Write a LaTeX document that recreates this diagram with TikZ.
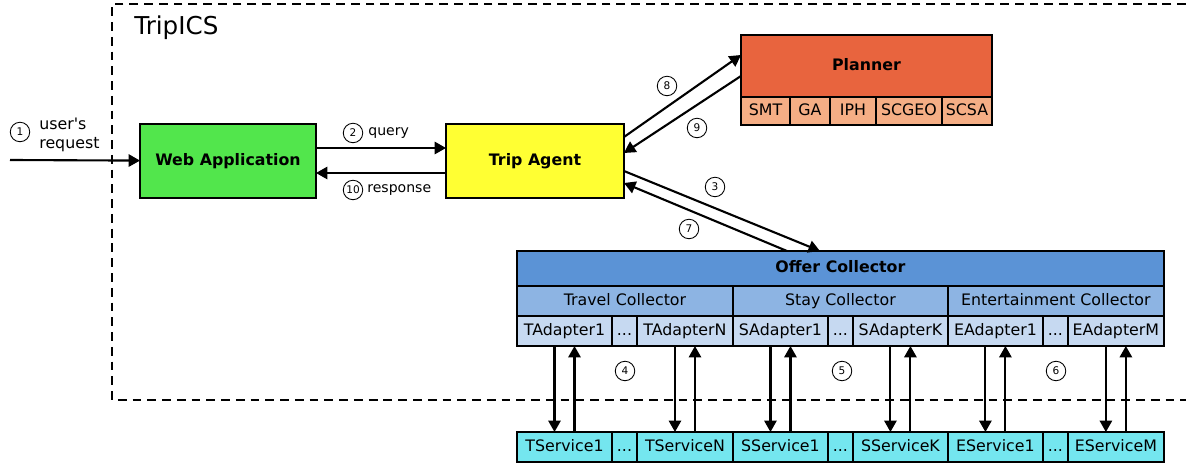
\documentclass[tikz,border=0pt]{standalone}
\usepackage{fontspec}
\setmainfont{DejaVu Sans}
\usetikzlibrary{positioning}
\usetikzlibrary{arrows.meta}
\definecolor{webgreen}{HTML}{52E64C}
\definecolor{agentyellow}{HTML}{FFFF33}
\definecolor{planorange}{HTML}{E8643E}
\definecolor{planlight}{HTML}{F5AE85}
\definecolor{offerblue}{HTML}{5B93D6}
\definecolor{collblue}{HTML}{8DB4E3}
\definecolor{adaptblue}{HTML}{C6D9F1}
\definecolor{servcyan}{HTML}{74E6EF}
\tikzset{box/.style={draw,line width=1.2pt,inner sep=0pt,outer sep=0pt,text height=6.8pt,text depth=1.8pt,font=\fontsize{9}{11}\selectfont}}
\tikzset{title/.style={box,font=\bfseries\fontsize{9}{11}\selectfont}}
\tikzset{cell/.style={box,minimum height=0.6cm}}
\tikzset{num/.style={circle,draw,line width=0.5pt,minimum size=0.39cm,inner sep=0pt,font=\fontsize{6}{7}\selectfont}}
\tikzset{lbl/.style={inner sep=0pt,font=\fontsize{8}{10}\selectfont}}
\tikzset{flow/.style={line width=1.2pt,-{Triangle[length=6.5pt,width=7pt]}}}

\begin{document}
\begin{tikzpicture}[x=0.02cm,y=-0.02cm]
        \useasboundingbox (0,0) rectangle (1186,465);

        % system boundary
        \draw[line width=1.2pt,dash pattern=on 5pt off 3.4pt] (1186,4) -- (112,4) -- (112,400) -- (1186,400);
        \node[anchor=west,inner sep=0pt,font=\fontsize{14}{17}\selectfont] (sys) at (134,28) {TripICS};

        \node[title,fill=webgreen,minimum width=3.52cm,minimum height=1.48cm] (web) at (228,161) {Web Application};
        \node[title,fill=agentyellow,minimum width=3.56cm,minimum height=1.48cm] (agent) at (535,161) {Trip Agent};

        % planner and its solvers
        \node[title,fill=planorange,anchor=north west,minimum width=5.02cm,minimum height=1.24cm] (planner) at (741,35) {Planner};
        \node[box,fill=planlight,anchor=north west,minimum width=0.98cm,minimum height=0.56cm] (smt) at (planner.south west) {SMT};
        \node[box,fill=planlight,right=0pt of smt,minimum width=0.80cm,minimum height=0.56cm] (ga) {GA};
        \node[box,fill=planlight,right=0pt of ga,minimum width=0.92cm,minimum height=0.56cm] (iph) {IPH};
        \node[box,fill=planlight,right=0pt of iph,minimum width=1.32cm,minimum height=0.56cm] (scgeo) {SCGEO};
        \node[box,fill=planlight,right=0pt of scgeo,minimum width=1.00cm,minimum height=0.56cm] (scsa) {SCSA};

        % offer collector
        \node[title,fill=offerblue,anchor=north west,minimum width=12.94cm,minimum height=0.7cm] (offer) at (517,251) {Offer Collector};
        \node[cell,fill=collblue,anchor=north west,minimum width=4.32cm] (travel) at (offer.south west) {Travel Collector};
        \node[cell,fill=collblue,right=0pt of travel,minimum width=4.30cm] (stay) {Stay Collector};
        \node[cell,fill=collblue,right=0pt of stay,minimum width=4.32cm] (ent) {Entertainment Collector};

        \node[cell,fill=adaptblue,anchor=north west,minimum width=1.9cm] (ta1) at (travel.south west) {TAdapter1};
        \node[cell,fill=adaptblue,right=0pt of ta1,minimum width=0.5cm] (tad) {...};
        \node[cell,fill=adaptblue,right=0pt of tad,minimum width=1.92cm] (taN) {TAdapterN};
        \node[cell,fill=adaptblue,right=0pt of taN,minimum width=1.9cm] (sa1) {SAdapter1};
        \node[cell,fill=adaptblue,right=0pt of sa1,minimum width=0.5cm] (sad) {...};
        \node[cell,fill=adaptblue,right=0pt of sad,minimum width=1.9cm] (saK) {SAdapterK};
        \node[cell,fill=adaptblue,right=0pt of saK,minimum width=1.9cm] (ea1) {EAdapter1};
        \node[cell,fill=adaptblue,right=0pt of ea1,minimum width=0.5cm] (ead) {...};
        \node[cell,fill=adaptblue,right=0pt of ead,minimum width=1.92cm] (eaM) {EAdapterM};

        % external services
        \node[cell,fill=servcyan,anchor=north west,minimum width=1.9cm] (ts1) at (517,432) {TService1};
        \node[cell,fill=servcyan,right=0pt of ts1,minimum width=0.5cm] (tsd) {...};
        \node[cell,fill=servcyan,right=0pt of tsd,minimum width=1.92cm] (tsN) {TServiceN};
        \node[cell,fill=servcyan,right=0pt of tsN,minimum width=1.9cm] (ss1) {SService1};
        \node[cell,fill=servcyan,right=0pt of ss1,minimum width=0.5cm] (ssd) {...};
        \node[cell,fill=servcyan,right=0pt of ssd,minimum width=1.9cm] (ssK) {SServiceK};
        \node[cell,fill=servcyan,right=0pt of ssK,minimum width=1.9cm] (es1) {EService1};
        \node[cell,fill=servcyan,right=0pt of es1,minimum width=0.5cm] (esd) {...};
        \node[cell,fill=servcyan,right=0pt of esd,minimum width=1.92cm] (esM) {EServiceM};

        % messages
        \coordinate (user) at (10,160);
        \draw[flow] (user) -- (web);
        \draw[flow] ([yshift=0.26cm]web.east) -- ([yshift=0.26cm]agent.west);
        \draw[flow] ([yshift=-0.24cm]agent.west) -- ([yshift=-0.24cm]web.east);
        \draw[flow] ([yshift=0.48cm]agent.east) -- ([yshift=0.22cm]planner.west);
        \draw[flow] ([yshift=-0.2cm]planner.west) -- ([yshift=0.16cm]agent.east);
        \draw[flow] ([yshift=-0.2cm]agent.east) -- ([xshift=-0.41cm]offer.north);
        \draw[flow] ([xshift=-1.07cm]offer.north) -- ([yshift=-0.44cm]agent.east);
        \foreach \a/\s in {ta1/ts1,taN/tsN,sa1/ss1,saK/ssK,ea1/es1,eaM/esM} {
            \draw[flow] ([xshift=-0.2cm]\a.south) -- ([xshift=-0.2cm]\s.north);
            \draw[flow] ([xshift=0.2cm]\s.north) -- ([xshift=0.2cm]\a.south);
        }

        % step numbers
        \node[num] (n1) at (20,132) {1};
        \node[lbl,anchor=west,align=left,font=\fontsize{9}{11}\selectfont] (req) at (39,135) {user\textquotesingle s\\request};
        \node[num] (n2) at (353,133) {2};
        \node[lbl,anchor=west] (query) at (368,133) {query};
        \node[num] (n10) at (353,190) {10};
        \node[lbl,anchor=west] (resp) at (367,190) {response};
        \node[num] (n3) at (715,187) {3};
        \node[num] (n4) at (625,371) {4};
        \node[num] (n5) at (842,371) {5};
        \node[num] (n6) at (1056,371) {6};
        \node[num] (n7) at (689,229) {7};
        \node[num] (n8) at (667,86) {8};
        \node[num] (n9) at (697,128) {9};
    \end{tikzpicture}
\end{document}
